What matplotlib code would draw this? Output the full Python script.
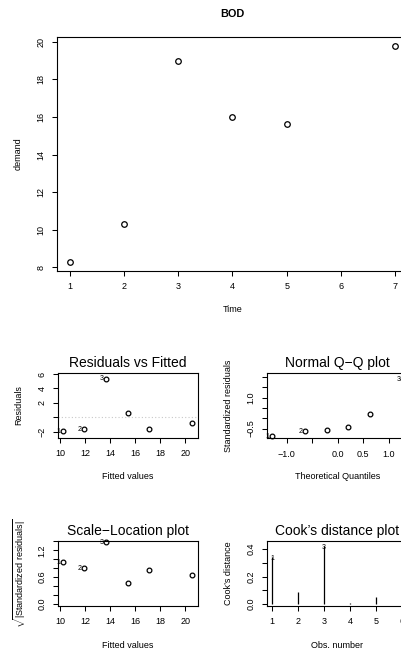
import matplotlib

matplotlib.use("Agg")
import matplotlib.pyplot as plt

plt.rcParams["font.family"] = ["Liberation Sans", "DejaVu Sans"]
plt.rcParams["mathtext.fontset"] = "custom"
plt.rcParams["mathtext.rm"] = "Liberation Sans"

# BOD data
time = [1, 2, 3, 4, 5, 7]
demand = [8.3, 10.3, 19.0, 16.0, 15.6, 19.8]

# diagnostics of lm(demand ~ Time)
fitted = [10.24, 11.96, 13.69, 15.41, 17.13, 20.57]
resid = [-1.94, -1.66, 5.31, 0.59, -1.53, -0.77]
sqrt_std_resid = [0.931, 0.799, 1.382, 0.459, 0.755, 0.647]
qq_theo = [-1.28, -0.64, -0.20, 0.20, 0.64, 1.28]
qq_sample = [-0.87, -0.64, -0.57, -0.42, 0.21, 1.91]
qq_obs = [1, 2, 5, 6, 4, 3]
obs = [1, 2, 3, 4, 5, 6]
cooks = [0.34, 0.085, 0.42, 0.006, 0.053, 0.157]
labelled = [1, 2, 3]
cook_labelled = [1, 3, 6]

W, H = 401, 652
fig = plt.figure(figsize=(W / 100, H / 100), dpi=100)


def make_axes(l, t, r, b):
    ax = fig.add_axes([l / W, 1 - b / H, (r - l) / W, (b - t) / H])
    ax.box_px = (l, t, r, b)
    for s in ax.spines.values():
        s.set_linewidth(0.8)
        s.set_color("black")
    ax.tick_params(direction="out", length=3.3, width=0.75, pad=4.8,
                   labelsize=6.5, colors="black")
    return ax


def place_labels(ax, title, title_y, xlab, xlab_y, ylab, ylab_x,
                 title_size=10, bold=False):
    l, t, r, b = ax.box_px
    ax.set_title(title, fontsize=title_size, y=(b - title_y) / (b - t),
                 va="center", pad=0, fontweight="bold" if bold else "normal")
    ax.set_xlabel(xlab, fontsize=6.5, va="center")
    ax.xaxis.set_label_coords(0.5, (b - xlab_y) / (b - t))
    ax.set_ylabel(ylab, fontsize=6.5, va="center")
    ax.yaxis.set_label_coords((ylab_x - l) / (r - l), 0.5)


def yticks(ax, ticks, labels):
    ax.set_yticks(ticks, labels, rotation=90, va="center")


def point_labels(ax, xs, ys, ids):
    for x, y, i in zip(xs, ys, ids):
        if i in labelled:
            ax.annotate(str(i), (x, y), xytext=(-2.0, 0), textcoords="offset points",
                        ha="right", va="center", fontsize=5, clip_on=False)


mk = dict(marker="o", ls="none", mfc="none", mec="black", clip_on=False)

# top: scatter of BOD
ax = make_axes(57, 36.7, 408, 270.7)
ax.plot(time, demand, ms=4.0, mew=0.9, **mk)
ax.set_xlim(0.76, 7.24)
ax.set_ylim(7.82, 20.27)
ax.set_xticks(range(1, 8))
yticks(ax, range(8, 21, 2), [str(v) for v in range(8, 21, 2)])
place_labels(ax, "BOD", 13.7, "Time", 309, "demand", 18, title_size=7.8, bold=True)

# residuals vs fitted
ax = make_axes(57.7, 372.7, 197.5, 438)
ax.axhline(0, color="#c8c8c8", lw=0.8, ls=(0, (1, 2)))
ax.plot(fitted, resid, ms=3.4, mew=0.9, **mk)
point_labels(ax, fitted, resid, obs)
ax.set_xlim(9.83, 20.98)
ax.set_ylim(-2.84, 6.18)
ax.set_xticks(range(10, 21, 2))
yticks(ax, [-2, 0, 2, 4, 6], ["\u22122", "", "2", "4", "6"])
place_labels(ax, "Residuals vs Fitted", 363.3, "Fitted values", 476.7, "Residuals", 18.3)

# normal Q-Q
ax = make_axes(267, 372.7, 408.3, 438.3)
ax.plot(qq_theo, qq_sample, ms=3.4, mew=0.9, **mk)
point_labels(ax, qq_theo, qq_sample, qq_obs)
ax.set_xlim(-1.384, 1.384)
ax.set_ylim(-0.976, 2.22)
ax.set_xticks([-1.0, -0.5, 0.0, 0.5, 1.0], ["\u22121.0", "", "0.0", "0.5", "1.0"])
yticks(ax, [-0.5, 0.0, 0.5, 1.0, 1.5, 2.0], ["\u22120.5", "", "", "1.0", "", ""])
place_labels(ax, "Normal Q\u2212Q plot", 363.3, "Theoretical Quantiles", 476.7,
             "Standardized residuals", 228.3)

# scale-location
ax = make_axes(57.7, 541, 197.5, 606)
ax.plot(fitted, sqrt_std_resid, ms=3.4, mew=0.9, **mk)
point_labels(ax, fitted, sqrt_std_resid, obs)
ax.set_xlim(9.83, 20.98)
ax.set_ylim(-0.045, 1.41)
ax.set_xticks(range(10, 21, 2))
yticks(ax, [0.0, 0.2, 0.4, 0.6, 0.8, 1.0, 1.2, 1.4],
       ["0.0", "", "", "0.6", "", "", "1.2", ""])
place_labels(ax, "Scale\u2212Location plot", 531.3, "Fitted values", 645.7,
             r"$\sqrt{|\mathrm{Standardized\ residuals}|}$", 20)

# cook's distance
ax = make_axes(266.7, 540.7, 407.7, 606)
ax.vlines(obs, 0, cooks, color="black", lw=0.9, clip_on=False)
for i, d in zip(obs, cooks):
    if i in cook_labelled:
        ax.annotate(str(i), (i, d), xytext=(0, -0.5), textcoords="offset points",
                    ha="center", va="center", fontsize=5, clip_on=False)
ax.set_xlim(0.8, 6.2)
ax.set_ylim(-0.0146, 0.462)
ax.set_xticks(obs)
yticks(ax, [0.0, 0.1, 0.2, 0.3, 0.4], ["0.0", "", "0.2", "", "0.4"])
place_labels(ax, "Cook\u2019s distance plot", 531.3, "Obs. number", 645.7,
             "Cook\u2019s distance", 228.3)

fig.savefig("out.png", dpi=100)
